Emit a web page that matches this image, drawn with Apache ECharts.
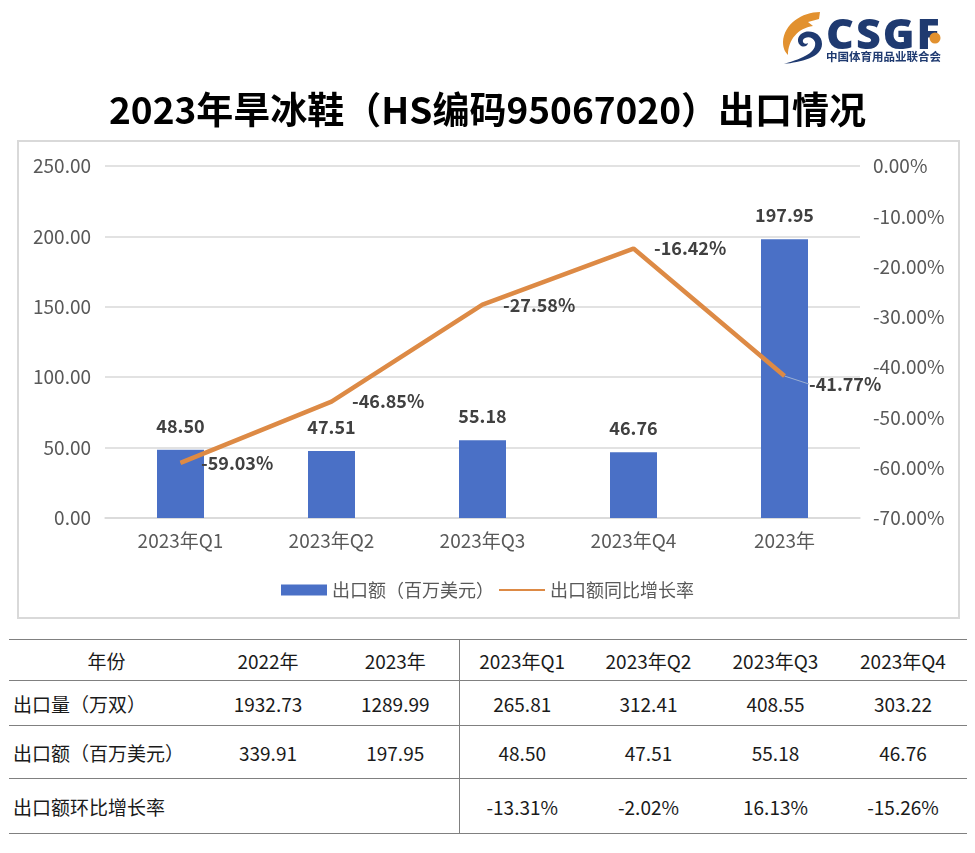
<!DOCTYPE html>
<html>
<head>
<meta charset="utf-8">
<script src="https://cdn.jsdelivr.net/npm/echarts@6/dist/echarts.min.js"></script>
<style>
  body{margin:0;background:#fff;font-family:"Noto Sans CJK SC","Noto Sans",sans-serif;}
  #page{position:relative;width:975px;height:853px;overflow:hidden;}
  #chart{position:absolute;left:0;top:0;width:975px;height:630px;}
  #logo{position:absolute;left:776px;top:8px;width:175px;height:60px;}
  #tbl{position:absolute;left:9px;top:639px;width:958px;table-layout:fixed;border-collapse:collapse;font-size:19px;color:#1a1a1a;}
  #tbl td{font-family:"Noto Sans CJK SC","Noto Sans",sans-serif;border-top:1.5px solid #808080;border-bottom:1.5px solid #808080;text-align:center;padding:0;box-sizing:border-box;white-space:nowrap;}
  #tbl td.first{text-align:left;padding-left:4px;}
  #tbl tr:first-child td.first{text-align:center;padding-left:0;}
  #tbl td.split{border-right:1.5px solid #808080;}
</style>
</head>
<body>
<div id="page">
  <div id="chart"></div>
  <svg id="logo" viewBox="0 0 175 60">
    <path d="M44 4 C26 4 8 16 7 34 C7 40 9 44 12 47 C12 32 22 20 37 18 L32 14 L43 11 Z" fill="#E2912F"/>
    <path d="M8 56 C24 54 46 50 46 36 C46 26 36 22 29 24 C22 26 20 33 24 37 C27 40 32 38 32 35 C30 37 26 35 27 32 C29 28 37 28 39 34 C41 44 28 50 8 56 Z" fill="#1F3A70"/>
    <text x="50" y="41" font-family="Noto Sans, sans-serif" font-weight="900" font-size="43" fill="#1F3A70" letter-spacing="2">CSGF</text>
    <circle cx="159" cy="30" r="5.5" fill="#E2912F"/>
    <text x="50" y="53" font-family="Noto Sans CJK SC" font-weight="bold" font-size="11.5" fill="#1F3A70">中国体育用品业联合会</text>
  </svg>
  <table id="tbl"></table>
</div>
<script>
  // chart data
  var categories = ['2023年Q1', '2023年Q2', '2023年Q3', '2023年Q4', '2023年'];
  var exportValue = [48.50, 47.51, 55.18, 46.76, 197.95];
  var yoyGrowth = [-59.03, -46.85, -27.58, -16.42, -41.77];

  // table data
  var tableHead = ['年份', '2022年', '2023年', '2023年Q1', '2023年Q2', '2023年Q3', '2023年Q4'];
  var volumeRow = ['出口量（万双）', '1932.73', '1289.99', '265.81', '312.41', '408.55', '303.22'];
  var amountRow = ['出口额（百万美元）', '339.91', '197.95', '48.50', '47.51', '55.18', '46.76'];
  var qoqRow = ['出口额环比增长率', '', '', '-13.31%', '-2.02%', '16.13%', '-15.26%'];

  var colWidths = [195, 128, 127, 126, 127, 127, 128];
  var rowHeights = [41, 45, 53, 55];

  var tbl = document.getElementById('tbl');
  [tableHead, volumeRow, amountRow, qoqRow].forEach(function(row, r){
    var tr = document.createElement('tr');
    tr.style.height = rowHeights[r] + 'px';
    row.forEach(function(txt, c){
      var td = document.createElement('td');
      td.textContent = txt;
      td.style.width = colWidths[c] + 'px';
      if (c === 0) td.className = 'first';
      if (c === 2) td.className = 'split';
      tr.appendChild(td);
    });
    tbl.appendChild(tr);
  });

  // only the last growth label gets a leader line
  var lineData = yoyGrowth.map(function(v, i){
    return i === yoyGrowth.length - 1 ? {value: v, labelLine: {show: true}} : v;
  });

  var font = '"Noto Sans CJK SC", sans-serif';
  var myChart = echarts.init(document.getElementById('chart'));
  var option = {
    animation: false,
    textStyle: {fontFamily: font},
    title: {
      text: '2023年旱冰鞋（HS编码95067020）出口情况',
      left: 'center',
      top: 86,
      textStyle: {fontSize: 37, fontWeight: 'bold', color: '#000', fontFamily: font}
    },
    graphic: [{
      type: 'rect',
      z: -1,
      shape: {x: 18, y: 141, width: 941, height: 477},
      style: {fill: 'none', stroke: '#D9D9D9', lineWidth: 2}
    }],
    legend: {
      left: 'center',
      top: 576,
      itemWidth: 46,
      itemHeight: 11,
      itemGap: 4,
      textStyle: {fontSize: 18, color: '#595959', fontFamily: font},
      data: [
        {name: '出口额（百万美元）', icon: 'rect'},
        {name: '出口额同比增长率', itemStyle: {opacity: 0}}
      ]
    },
    grid: {left: 105, right: 115, top: 166, bottom: 112},
    xAxis: {
      type: 'category',
      data: categories,
      axisLine: {lineStyle: {color: '#D9D9D9', width: 1.5}},
      axisTick: {show: false},
      axisLabel: {fontSize: 19, color: '#595959', margin: 13, fontFamily: font}
    },
    yAxis: [{
      type: 'value',
      min: 0, max: 250, interval: 50,
      axisLine: {show: false},
      axisTick: {show: false},
      splitLine: {lineStyle: {color: '#D9D9D9', width: 1.5}},
      axisLabel: {
        fontSize: 19, color: '#595959', margin: 14, fontFamily: font,
        formatter: function(v){ return v.toFixed(2); }
      }
    }, {
      type: 'value',
      min: -70, max: 0, interval: 10,
      axisLine: {show: false},
      axisTick: {show: false},
      splitLine: {show: false},
      axisLabel: {
        fontSize: 19, color: '#595959', margin: 13, fontFamily: font,
        formatter: function(v){ return v.toFixed(2) + '%'; }
      }
    }],
    series: [{
      name: '出口额（百万美元）',
      type: 'bar',
      data: exportValue,
      barWidth: 47,
      itemStyle: {color: '#4A70C6'},
      label: {
        show: true, position: 'top', distance: 15,
        fontSize: 18, fontWeight: 'bold', color: '#404040', fontFamily: font,
        formatter: function(p){ return p.value.toFixed(2); }
      }
    }, {
      name: '出口额同比增长率',
      type: 'line',
      yAxisIndex: 1,
      data: lineData,
      symbol: 'circle',
      symbolSize: 1,
      itemStyle: {color: '#DD8A45'},
      lineStyle: {color: '#DD8A45', width: 4.5},
      label: {
        show: true, position: 'right', distance: 20,
        fontSize: 18, fontWeight: 'bold', color: '#404040', fontFamily: font,
        formatter: function(p){ return p.value.toFixed(2) + '%'; }
      },
      labelLine: {show: false, lineStyle: {color: '#9DB0D2', width: 1}},
      labelLayout: function(p){
        if (p.dataIndex === 4) return {dx: 4, dy: 8};
      }
    }]
  };
  myChart.setOption(option);
</script>
</body>
</html>
